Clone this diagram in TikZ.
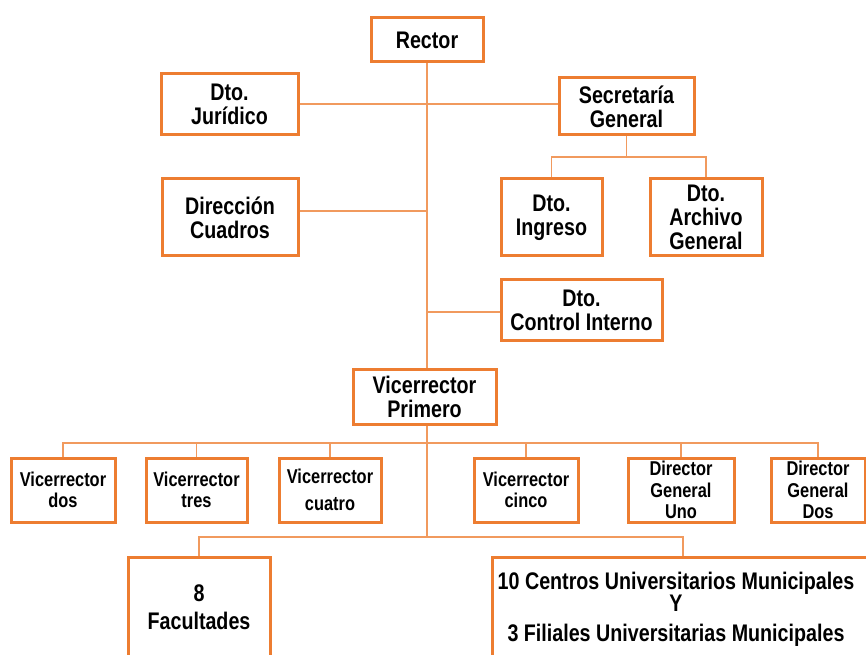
\documentclass[tikz,border=0pt]{standalone}
\usepackage{fontspec}
\setmainfont{Liberation Sans}[FakeStretch=0.82]
\definecolor{orng}{HTML}{ED7D31}
\definecolor{orngl}{HTML}{F19A5E}
\begin{document}
\begin{tikzpicture}[x=0.75pt,y=-0.75pt,
  bx/.style 2 args={draw=orng,line width=2.25pt,minimum width=#1*0.75pt,minimum height=#2*0.75pt,inner sep=0pt,align=center},
  big/.style={font=\bfseries\fontsize{18}{18}\selectfont},
  small/.style={font=\bfseries\fontsize{15}{16}\selectfont},
  con/.style={draw=orngl,line width=1.2pt}]
\useasboundingbox[fill=white] (0,0) rectangle (866,655);
% top part
\node[bx={112}{44},big] (rector) at (427,40) {Rector};
\node[bx={137}{61},big] (jur) at (229.5,104.5) {Dto.\\Jurídico};
\node[bx={135}{57},big] (sec) at (626.5,106.5) {Secretaría\\General};
\node[bx={136}{77},big] (dir) at (230,217.5) {Dirección\\Cuadros};
\node[bx={101}{77},big] (ing) at (551.5,217.5) {Dto.\\Ingreso};
\node[bx={112}{77},big] (arch) at (706,217.5) {Dto.\\Archivo\\General};
\node[bx={161}{61},big] (ctrl) at (581.5,310.5) {Dto.\\Control Interno};
\node[bx={143}{55},big] (vp) at (424.5,396.5) {Vicerrector\\Primero};
% row of vicerrectors
\node[bx={104}{64},small] (vdos) at (63,490) {Vicerrector\\dos};
\node[bx={101}{64},small] (vtres) at (196.5,490) {Vicerrector\\tres};
\node[bx={102}{64},small] (vcuatro) at (330,490) {Vicerrector\\[4pt]cuatro};
\node[bx={104}{64},small] (vcinco) at (526,490) {Vicerrector\\cinco};
\node[bx={106}{64},small] (duno) at (681,490) {Director\\General\\Uno};
\node[bx={94}{64},small] (ddos) at (818,490) {Director\\General\\Dos};
% bottom boxes
\node[bx={142}{143}] (fac) at (199,628.5) {};
\node[big,align=center] (factext) at (199,607) {8\\[3pt]Facultades};
\node[bx={382}{143}] (cen) at (683,628.5) {};
\node[big,align=center] (centext) at (676,609) {10 Centros Universitarios Municipales\\[-1pt]Y\\[4pt]3 Filiales Universitarias Municipales};
% bus coordinates
\coordinate (secbus) at (626.5,157);
\coordinate (vbus) at (427,443);
\coordinate (bbus) at (427,537);
% connectors
\draw[con] (rector.south) -- (rector.south |- vp.north);
\draw[con] (rector.south |- vp.south) -- (bbus);
\draw[con] (jur.east |- 0,104) -- (sec.west |- 0,104);
\draw[con] (dir.east |- 0,211) -- (rector.south |- 0,211);
\draw[con] (rector.south |- 0,312) -- (ctrl.west |- 0,312);
\draw[con] (sec.south) -- (secbus);
\draw[con] (ing.north) |- (secbus) -| (arch.north);
\draw[con] (vdos.north) |- (vbus) -| (ddos.north);
\foreach \n in {vtres,vcuatro,vcinco,duno}
  \draw[con] (\n.north) -- (\n.north |- vbus);
\draw[con] (fac.north) |- (bbus) -| (cen.north);
\end{tikzpicture}
\end{document}
